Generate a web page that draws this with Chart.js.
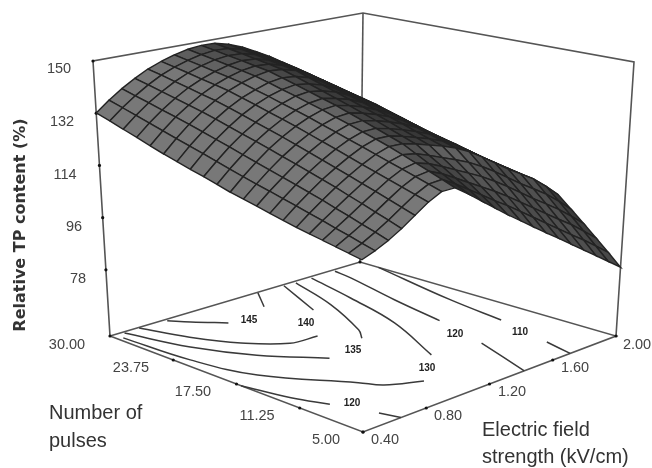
<!DOCTYPE html>
<html>
<head>
<meta charset="utf-8">
<style>
  html, body { margin: 0; padding: 0; background: #fff; }
  canvas { display: block; filter: blur(0.5px); }
</style>
</head>
<body>
<canvas id="chart" width="652" height="468"></canvas>
<script src="https://cdn.jsdelivr.net/npm/chart.js@4/dist/chart.umd.js"></script>
<script>
const pulseTicks = [30, 23.75, 17.5, 11.25, 5];
const fieldTicks = [0.4, 0.8, 1.2, 1.6, 2.0];
const tpTicks = [78, 96, 114, 132, 150];
const tpFloor = 55.2;

// relative TP, one row per pulse step (30 -> 5), one column per field step (0.4 -> 2.0)
const tpRows = [
  [132.1,135.6,138.7,141.4,143.8,145.6,147.1,148.2,148.7,148.6,147.4,145.5,143,140.3,137.2,134,130.5,126.5,122,117,112],
  [130.6,134.2,137.4,140.3,142.8,144.7,146.2,147.4,148,147.8,146.6,144.6,142,139.1,136.1,132.9,129.4,125.5,121.1,116.2,111.2],
  [129,132.8,136.2,139.1,141.7,143.8,145.4,146.6,147.2,147,145.8,143.6,140.9,138,134.9,131.7,128.3,124.4,120.2,115.4,110.4],
  [127.5,131.4,134.9,138,140.7,142.8,144.5,145.8,146.5,146.2,144.9,142.7,139.9,136.8,133.8,130.6,127.2,123.4,119.3,114.6,109.6],
  [125.9,130,133.7,136.8,139.6,141.9,143.7,145,145.7,145.4,144.1,141.7,138.8,135.7,132.6,129.4,126.1,122.3,118.4,113.8,108.8],
  [124.4,128.6,132.4,135.7,138.6,141,142.8,144.2,145,144.6,143.3,140.8,137.8,134.5,131.5,128.3,125,121.3,117.5,113,108],
  [123.1,127.3,131.1,134.4,137.3,139.7,141.5,143,143.7,143.2,141.8,139.4,136.5,133.3,130.2,126.9,123.6,119.9,116.2,111.9,107.2],
  [121.8,126,129.7,133,136,138.4,140.3,141.7,142.4,141.7,140.3,138,135.3,132.1,128.9,125.6,122.2,118.6,114.9,110.8,106.4],
  [120.6,124.6,128.4,131.7,134.6,137.1,139,140.5,141.1,140.3,138.9,136.7,134,130.9,127.6,124.2,120.8,117.2,113.6,109.7,105.6],
  [119.3,123.3,127,130.4,133.3,135.8,137.8,139.2,139.8,138.8,137.4,135.3,132.8,129.7,126.3,122.9,119.4,115.9,112.3,108.6,104.8],
  [118,122,125.7,129.1,132,134.5,136.5,138,138.5,137.4,135.9,133.9,131.5,128.5,125,121.5,118,114.5,111,107.5,104],
  [117,120.8,124.4,127.7,130.6,133.1,135.1,136.6,137,135.9,134.4,132.5,130.2,127.3,123.9,120.5,117,113.6,110.2,106.6,102.9],
  [116,119.7,123.1,126.4,129.2,131.7,133.8,135.3,135.5,134.4,132.9,131.1,128.9,126.1,122.8,119.4,116,112.7,109.4,105.7,101.8],
  [114.9,118.5,121.9,125,127.8,130.3,132.4,133.9,134,132.8,131.3,129.6,127.6,124.9,121.8,118.4,115,111.8,108.5,104.8,100.8],
  [113.9,117.4,120.6,123.7,126.4,128.9,131.1,132.6,132.5,131.3,129.8,128.2,126.3,123.8,120.7,117.3,114,110.9,107.7,103.9,99.7],
  [112.9,116.2,119.3,122.3,125,127.5,129.7,131.2,131,129.8,128.3,126.8,125,122.6,119.6,116.3,113,110,106.9,103,98.6],
  [112.1,115.1,117.9,120.8,123.6,126.2,128.4,129.6,128.8,127.1,125.2,123.3,121.2,118.6,115.6,112.3,109,105.9,102.7,98.9,94.7],
  [111.3,113.9,116.6,119.4,122.2,124.9,127.1,128,126.6,124.5,122.2,119.9,117.5,114.7,111.6,108.3,104.9,101.8,98.5,94.8,90.8],
  [110.5,112.8,115.2,117.9,120.8,123.6,125.8,126.4,124.4,121.8,119.1,116.4,113.7,110.7,107.5,104.2,100.9,97.6,94.4,90.7,86.9],
  [109.7,111.6,113.9,116.5,119.4,122.3,124.5,124.8,122.2,119.2,116.1,113,110,106.8,103.5,100.2,96.8,93.5,90.2,86.6,83],
  [108.9,110.5,112.5,115,118,121,123.2,123.2,120,116.5,113,109.5,106.2,102.8,99.5,96.2,92.8,89.4,86,82.5,79],
];

// floor contours as [pulses, field] pairs
const contours = [
  [[29.75,0.75],[28.5,0.82],[26.65,0.94]],
  [[29.9,1.34],[27.45,1.22]],
  [[29.8,1.5],[24.6,1.35]],
  [[29.9,0.58],[26.3,0.67],[23.1,0.79],[20.75,0.95],[20.5,1.11]],
  [[29.7,1.57],[24.6,1.46],[19.4,1.3],[18,1.23]],
  [[29.8,0.48],[24.85,0.58],[20.6,0.73],[16.7,0.94]],
  [[29.7,1.67],[24.65,1.59],[18.65,1.48],[12.1,1.29]],
  [[29.15,0.43],[23,0.46],[17.75,0.55],[11.85,0.81],[10.25,0.87],[8.8,1.03]],
  [[29.7,1.82],[27.85,1.8],[22.2,1.71],[16.7,1.64]],
  [[11.2,1.55],[5,1.42]],
  [[28.2,2],[19.3,1.88],[13.6,1.83]],
  [[7.9,1.75],[5,1.71]],
  [[17.05,0.4],[13.05,0.46],[10.3,0.53]],
  [[6.7,0.61],[5,0.64]],
];

// view of the box: where its eight corners land on the x/y scales
const view = {
  floor: { a: [110, 336], b: [363, 432], c: [616, 336], d: [360, 262] },
  top: { a: [93, 61], b: [361, 128], c: [634, 62], d: [363, 13] },
};

function project(pulses, field, tp) {
  const p = (30 - pulses) / 25;
  const f = (field - 0.4) / 1.6;
  const w = (tp - tpFloor) / (150 - tpFloor);
  const at = (q, k) => {
    const near = q.a[k] + (q.b[k] - q.a[k]) * p;
    const far = q.d[k] + (q.c[k] - q.d[k]) * p;
    return near + (far - near) * f;
  };
  return {
    x: at(view.floor, 0) + (at(view.top, 0) - at(view.floor, 0)) * w,
    y: at(view.floor, 1) + (at(view.top, 1) - at(view.floor, 1)) * w,
  };
}

const datasets = [];
const frameColor = "#555";

function addLine(points, color, width, tension) {
  datasets.push({
    data: points,
    showLine: true,
    pointRadius: 0,
    borderColor: color,
    borderWidth: width,
    tension: tension || 0,
    fill: false,
  });
}

// back walls first, they sit behind everything
addLine([project(30, 0.4, tpFloor), project(30, 0.4, 150), project(30, 2, 150), project(5, 2, 150), project(5, 2, tpFloor)], frameColor, 1.6);
addLine([project(30, 2, tpFloor), project(30, 2, 150)], frameColor, 1.6);
addLine([project(30, 0.4, tpFloor), project(30, 2, tpFloor), project(5, 2, tpFloor), project(5, 0.4, tpFloor), project(30, 0.4, tpFloor)], frameColor, 1.6);

contours.forEach((c) => {
  addLine(c.map((pt) => project(pt[0], pt[1], tpFloor)), "#3a3a3a", 1.5, 0.4);
});

// axis tick dots
datasets.push({
  data: [
    ...tpTicks.map((t) => project(30, 0.4, t)),
    ...pulseTicks.map((t) => project(t, 0.4, tpFloor)),
    ...fieldTicks.map((t) => project(5, t, tpFloor)),
    project(30, 2, tpFloor),
  ],
  pointRadius: 1.6,
  pointBackgroundColor: "#111",
  pointBorderWidth: 0,
  showLine: false,
});

// surface cells, far field and far pulses first so the near side covers them
const rowPulses = tpRows.map((r, i) => 30 - (i * 25) / (tpRows.length - 1));
const colField = tpRows[0].map((v, j) => 0.4 + (j * 1.6) / (tpRows[0].length - 1));
for (let j = colField.length - 2; j >= 0; j--) {
  for (let i = 0; i < rowPulses.length - 1; i++) {
    const c1 = project(rowPulses[i], colField[j], tpRows[i][j]);
    const c2 = project(rowPulses[i], colField[j + 1], tpRows[i][j + 1]);
    const c3 = project(rowPulses[i + 1], colField[j + 1], tpRows[i + 1][j + 1]);
    const c4 = project(rowPulses[i + 1], colField[j], tpRows[i + 1][j]);
    const area = ((c3.x - c1.x) * (c4.y - c2.y) - (c3.y - c1.y) * (c4.x - c2.x)) / 2;
    const tone = area <= 0 ? 32 : Math.round(32 + 88 * Math.pow(Math.min(1, area / 190), 1.5));
    datasets.push({
      data: [c1, c2, c3, c4, c1],
      showLine: true,
      pointRadius: 0,
      borderColor: "#232323",
      borderWidth: 1.4,
      backgroundColor: `rgb(${tone},${tone},${tone})`,
      fill: "shape",
    });
  }
}

// Chart.js paints the first dataset last, so flip the list
datasets.reverse();

// x, y are where each text sits on the page scales
const labels = [
  { t: "150", x: 59, y: 69 }, { t: "132", x: 62, y: 122 }, { t: "114", x: 65, y: 175 },
  { t: "96", x: 74, y: 227 }, { t: "78", x: 78, y: 279 },
  { t: "30.00", x: 67, y: 345 }, { t: "23.75", x: 131, y: 368 }, { t: "17.50", x: 193, y: 392 },
  { t: "11.25", x: 257, y: 416 }, { t: "5.00", x: 326, y: 440 },
  { t: "0.40", x: 385, y: 440 }, { t: "0.80", x: 448, y: 416 }, { t: "1.20", x: 512, y: 392 },
  { t: "1.60", x: 575, y: 368 }, { t: "2.00", x: 637, y: 345 },
];
const contourLabels = [
  { t: "145", x: 249, y: 320 }, { t: "140", x: 306, y: 323 }, { t: "135", x: 353, y: 350 },
  { t: "120", x: 352, y: 403 }, { t: "130", x: 427, y: 368 }, { t: "120", x: 455, y: 334 },
  { t: "110", x: 520, y: 332 },
];
const titles = [
  { t: "Number of", x: 49, y: 413 }, { t: "pulses", x: 49, y: 441 },
  { t: "Electric field", x: 482, y: 430 }, { t: "strength (kV/cm)", x: 482, y: 457 },
];

const textPlugin = {
  id: "boxText",
  afterDraw(chart) {
    const ctx = chart.ctx;
    const sx = chart.scales.x;
    const sy = chart.scales.y;
    ctx.save();
    ctx.textBaseline = "middle";
    ctx.textAlign = "center";
    ctx.fillStyle = "#444";
    ctx.font = "14.5px 'Liberation Sans'";
    labels.forEach((l) => ctx.fillText(l.t, sx.getPixelForValue(l.x), sy.getPixelForValue(l.y)));
    ctx.fillStyle = "#222";
    ctx.font = "bold 10px 'Liberation Sans'";
    contourLabels.forEach((l) => ctx.fillText(l.t, sx.getPixelForValue(l.x), sy.getPixelForValue(l.y)));
    ctx.textAlign = "left";
    ctx.fillStyle = "#333";
    ctx.font = "20px 'Liberation Sans'";
    titles.forEach((l) => ctx.fillText(l.t, sx.getPixelForValue(l.x), sy.getPixelForValue(l.y)));
    ctx.translate(sx.getPixelForValue(21), sy.getPixelForValue(225));
    ctx.rotate(-Math.PI / 2);
    ctx.textAlign = "center";
    ctx.fillStyle = "#333";
    ctx.font = "bold 16px 'DejaVu Sans'";
    ctx.fillText("Relative TP content (%)", 0, 0);
    ctx.restore();
  },
};

new Chart(document.getElementById("chart").getContext("2d"), {
  type: "scatter",
  data: { datasets: datasets },
  plugins: [textPlugin],
  options: {
    responsive: false,
    animation: false,
    events: [],
    layout: { padding: 0, autoPadding: false },
    plugins: { legend: { display: false }, tooltip: { enabled: false } },
    scales: {
      x: { type: "linear", min: 0, max: 652, display: false },
      y: { type: "linear", min: 0, max: 468, reverse: true, display: false },
    },
  },
});
</script>
</body>
</html>
